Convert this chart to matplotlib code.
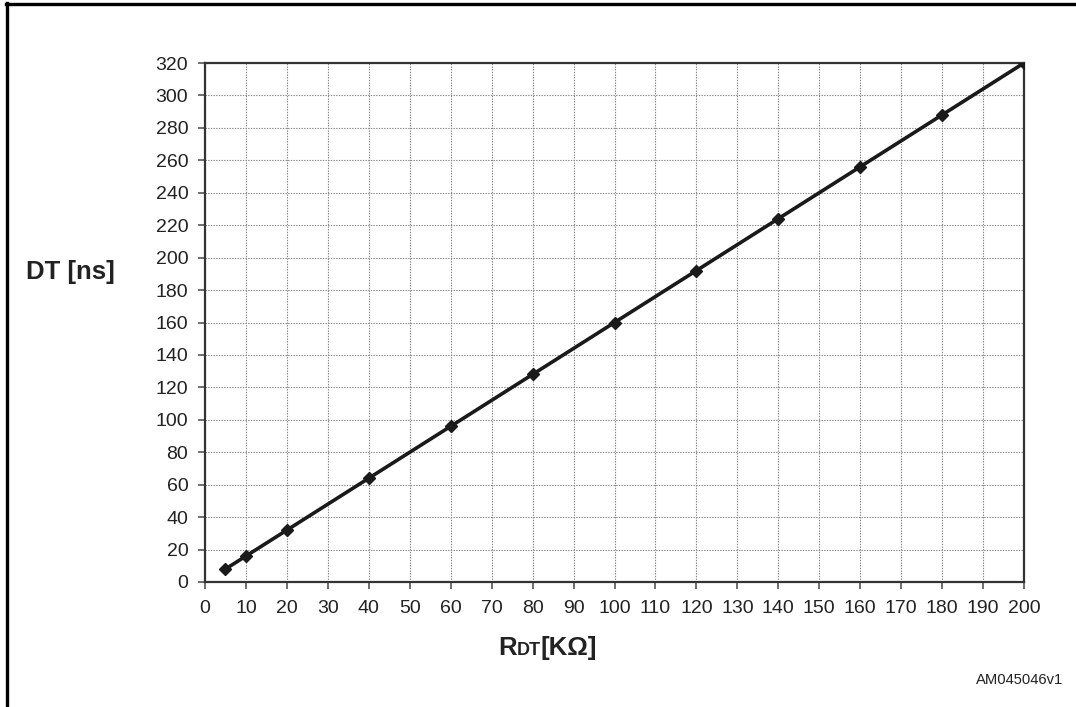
import matplotlib
matplotlib.use("Agg")
import matplotlib.pyplot as plt
from matplotlib.lines import Line2D
from matplotlib.ticker import MultipleLocator

# dead time vs. RDT resistor
r_dt = [5, 10, 20, 40, 60, 80, 100, 120, 140, 160, 180, 200]
dead_time = [8, 16, 32, 64, 96, 128, 160, 192, 224, 256, 288, 320]

plt.rcParams["font.family"] = ["Liberation Sans", "DejaVu Sans"]
INK = "#222222"

fig = plt.figure(figsize=(10.76, 7.07), dpi=100)
ax = fig.add_axes([205 / 1076, 125 / 707, 819 / 1076, 519 / 707])

ax.plot(r_dt, dead_time, color="#1a1a1a", lw=2.6, marker="D", ms=6.5,
        mfc="#1a1a1a", mec="#1a1a1a", zorder=3)

ax.set_xlim(0, 200)
ax.set_ylim(0, 320)
ax.xaxis.set_major_locator(MultipleLocator(10))
ax.yaxis.set_major_locator(MultipleLocator(20))
ax.grid(True, which="major", color="#888888", ls=(0, (1.2, 1.2)), lw=0.8)
ax.set_axisbelow(True)

for side in ("left", "bottom", "top", "right"):
    ax.spines[side].set_color("#333333")
    ax.spines[side].set_linewidth(1.6)

ax.tick_params(axis="both", direction="out", length=5, width=1.2,
               color="#555555", labelsize=14, labelcolor=INK)
ax.tick_params(axis="x", pad=8)
ax.tick_params(axis="y", pad=7)

fig.text(70 / 1076, 1 - 272 / 707, "DT [ns]", fontsize=18.5, fontweight="bold",
         color=INK, ha="center", va="center")

# x label: "R" then small "DT" then "[KΩ]", laid out piece by piece
fig.canvas.draw()
renderer = fig.canvas.get_renderer()
pieces = [("R", 18.5), ("DT", 13), ("[KΩ]", 18.5)]
x_px, y_px = 498, 707 - 655
for txt, size in pieces:
    t = fig.text(x_px / 1076, y_px / 707, txt, fontsize=size,
                 fontweight="bold", color=INK, ha="left", va="baseline")
    x_px += t.get_window_extent(renderer).width

fig.text(1063 / 1076, 1 - 680 / 707, "AM045046v1", fontsize=10.6,
         color=INK, ha="right", va="center")

# outer frame (left and top edges)
fig.add_artist(Line2D([7 / 1076, 7 / 1076], [0, 1 - 3 / 707],
                      transform=fig.transFigure, color="black", lw=2.4))
fig.add_artist(Line2D([6 / 1076, 1], [1 - 4 / 707, 1 - 4 / 707],
                      transform=fig.transFigure, color="black", lw=2.4))

fig.savefig("out.png", dpi=100)
